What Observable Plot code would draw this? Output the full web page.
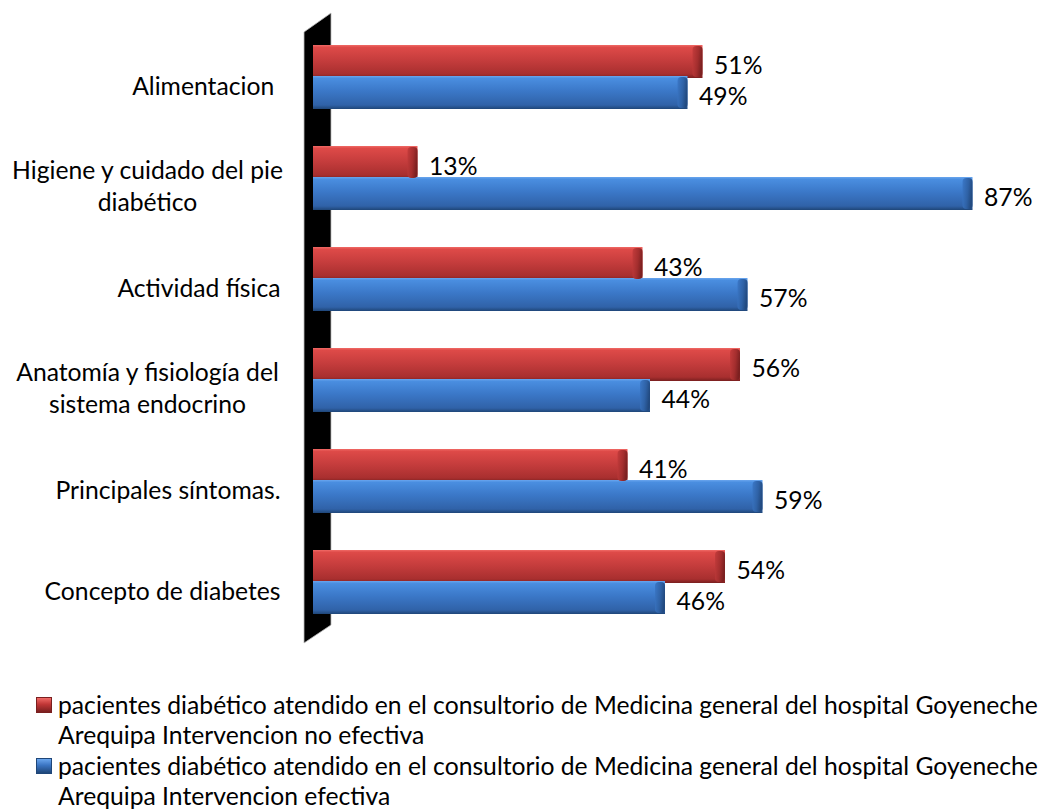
<!DOCTYPE html>
<html><head><meta charset="utf-8">
<script src="https://cdn.jsdelivr.net/npm/d3@7"></script>
<script src="https://cdn.jsdelivr.net/npm/@observablehq/plot@0.6"></script>
<style>
body{margin:0;background:#fff;font-family:Lato, sans-serif;}
#chart{position:absolute;left:0;top:0;}
svg text{white-space:pre;}
#legend{position:absolute; left:36px; top:690px; color:#000; font-family:Lato, sans-serif;}
.item{display:flex; align-items:flex-start; line-height:29.5px; margin-bottom:2px; white-space:pre;}
.sw{width:16px;height:16px;margin-top:7px;margin-right:6px;flex:none;box-sizing:border-box;}
</style></head><body>
<div id="chart"></div><div id="legend"></div>
<script>
const categories = ["Alimentacion ", "Higiene y cuidado del pie\ndiabético", "Actividad física", "Anatomía y fisiología del\nsistema endocrino", "Principales síntomas.", "Concepto de diabetes"];
const seriesKeys = ["no", "si"];
const seriesLabels = [
  "pacientes diabético atendido en el consultorio de Medicina general del hospital Goyeneche\nArequipa Intervencion no efectiva",
  "pacientes diabético atendido en el consultorio de Medicina general del hospital Goyeneche\nArequipa Intervencion efectiva"
];
const noEfectiva = [0.51, 0.13, 0.43, 0.56, 0.41, 0.54];
const efectiva = [0.49, 0.87, 0.57, 0.44, 0.59, 0.46];

// fit font size so the first legend line has the reference width
const ctx = document.createElement("canvas").getContext("2d");
ctx.font = "100px Lato";
const wRef = ctx.measureText(seriesLabels[0].split("\n")[0]).width;
const FS = Math.round(982 / wRef * 100 * 10) / 10;
document.getElementById("legend").style.fontSize = FS + "px";

const rows = [];
categories.forEach((c, i) => {
  rows.push({cat: c, key: "no", value: noEfectiva[i]});
  rows.push({cat: c, key: "si", value: efectiva[i]});
});
const catRows = categories.map(c => ({cat: c, multi: c.includes("\n")}));

const fillMain = d => d.key === "no" ? "url(#gRed)" : "url(#gBlue)";
const fillCap = d => d.key === "no" ? "url(#gRedCap)" : "url(#gBlueCap)";

const plot = Plot.plot({
  width: 1048,
  height: 660,
  marginLeft: 320,
  marginRight: 0.5,
  marginTop: 44,
  marginBottom: 46,
  style: {fontFamily: "Lato, sans-serif", background: "transparent"},
  x: {domain: [0, 0.97], axis: null},
  y: {domain: seriesKeys, padding: 0, axis: null},
  fy: {domain: categories, paddingInner: 0.38, paddingOuter: 0, axis: null},
  marks: [
    Plot.barX(rows, {x1: 0, x2: "value", y: "key", fy: "cat", fill: fillMain, insetLeft: -7, insetTop: -1, insetBottom: -1}),
    Plot.barX(rows, {x1: "value", x2: "value", y: "key", fy: "cat", fill: fillCap, insetLeft: -10, insetTop: 0, insetBottom: 0, rx: 4}),
    Plot.text(rows, {x: "value", y: "key", fy: "cat", text: d => Math.round(d.value * 100) + "%", dx: 11, dy: 4, textAnchor: "start", fontSize: FS, fill: "#000"}),
    Plot.text(catRows.filter(d => !d.multi), {fy: "cat", text: "cat", frameAnchor: "left", dx: -40, dy: 10, textAnchor: "end", fontSize: FS, fill: "#000"}),
    Plot.text(catRows.filter(d => d.multi), {fy: "cat", text: "cat", frameAnchor: "left", dx: -173, dy: 7, textAnchor: "middle", lineHeight: 32 / FS, fontSize: FS, fill: "#000"})
  ]
});
document.getElementById("chart").appendChild(plot);

// gradients + 3D wall (decoration derived from scales)
const svg = d3.select(plot);
const defs = svg.insert("defs", ":first-child");
function grad(id, x2, y2, stops) {
  const g = defs.append("linearGradient").attr("id", id).attr("x1", 0).attr("y1", 0).attr("x2", x2).attr("y2", y2);
  stops.forEach(([o, c]) => g.append("stop").attr("offset", o).attr("stop-color", c));
}
grad("gRed", 0, 1, [[0, "#f06a66"], [0.07, "#de4a48"], [0.45, "#c63d3d"], [0.88, "#a82f2f"], [1, "#7a1f1f"]]);
grad("gBlue", 0, 1, [[0, "#6aa6ee"], [0.07, "#4a8ee0"], [0.45, "#3b78c8"], [0.88, "#3062a8"], [1, "#1f4678"]]);
grad("gRedCap", 1, 0.3, [[0, "#c53c3c"], [0.6, "#a42e2e"], [1, "#7c2020"]]);
grad("gBlueCap", 1, 0.3, [[0, "#3b78c8"], [0.6, "#2f62a6"], [1, "#224a80"]]);

const x0 = plot.scale("x").apply(0);
const fyr = plot.scale("fy").range;
const yTop = fyr[0] - 31, yBot = fyr[1] + 11;
const pts = [[x0 - 16, yTop + 19], [x0 + 11, yTop], [x0 + 11, yBot], [x0 - 16, yBot + 18]];
svg.insert("polygon", "defs + *")
  .attr("points", pts.map(p => p.join(",")).join(" "))
  .attr("fill", "#000").attr("stroke", "#bbb").attr("stroke-width", 0.8);

// legend
const legendCols = [["#f06a66", "#c03636", "#7a1f1f"], ["#6aa6ee", "#3a74c2", "#1f4678"]];
const leg = d3.select("#legend");
seriesLabels.forEach((lab, i) => {
  const it = leg.append("div").attr("class", "item");
  const c = legendCols[i];
  it.append("div").attr("class", "sw")
    .style("background", `linear-gradient(180deg, ${c[0]} 0%, ${c[1]} 45%, ${c[2]} 100%)`)
    .style("border", `1px solid ${c[2]}`);
  it.append("div").text(lab);
});
</script>
</body></html>
